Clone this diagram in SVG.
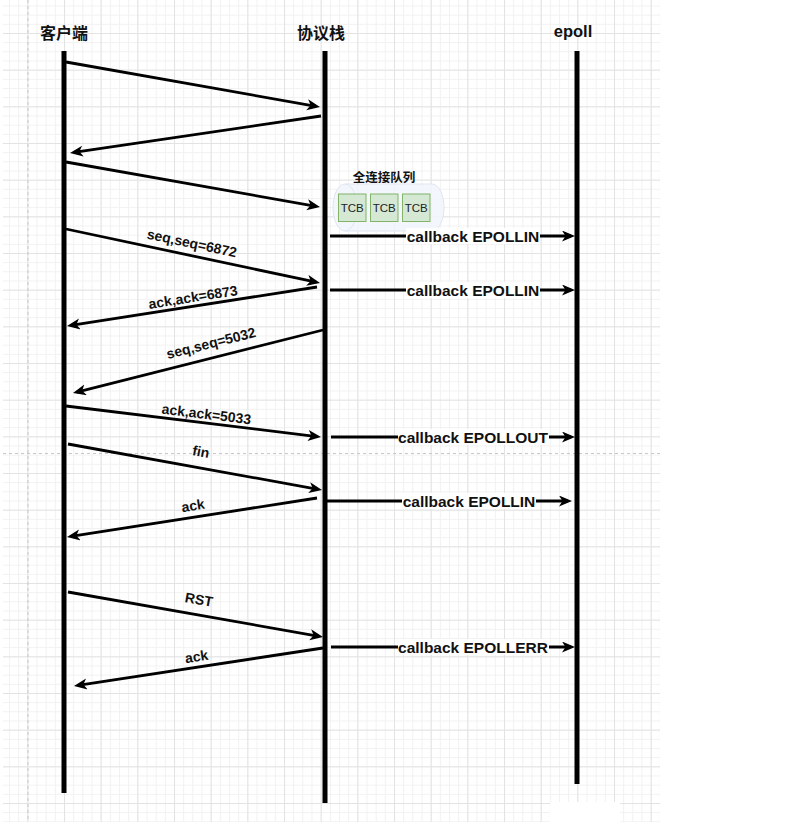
<svg xmlns="http://www.w3.org/2000/svg" width="788" height="827" viewBox="0 0 788 827">
  <defs>
    <pattern id="gridMinor" width="9.1667" height="9.1667" patternUnits="userSpaceOnUse" x="27.33" y="-3.67">
      <path d="M0,0.5 H9.1667 M0.5,0 V9.1667" stroke="#f1f1f1" stroke-width="1" fill="none"/>
    </pattern>
    <pattern id="gridMajor" width="36.667" height="36.667" patternUnits="userSpaceOnUse" x="27.33" y="-3.67">
      <path d="M0,0.5 H36.667 M0.5,0 V36.667" stroke="#e3e3e3" stroke-width="1" fill="none"/>
    </pattern>
    <marker id="arrow" markerUnits="userSpaceOnUse" markerWidth="14" markerHeight="12" refX="9" refY="5.5" orient="auto">
      <path d="M0,0 L13,5.5 L0,11 L3.5,5.5 Z" fill="#000"/>
    </marker>
    <style>
      .life { stroke: #000; stroke-width: 5; fill: none; }
      .msg { stroke: #000; stroke-width: 2.8; fill: none; marker-end: url(#arrow); }
      .head { font-family: "Liberation Sans", "Noto Sans CJK SC", sans-serif; font-weight: bold; font-size: 16px; fill: #111; text-anchor: middle; }
      .lbl { font-family: "Liberation Sans", Arial, sans-serif; font-weight: bold; font-size: 14px; fill: #111; text-anchor: middle; }
      .cb { font-family: "Liberation Sans", Arial, sans-serif; font-weight: bold; font-size: 15.5px; fill: #111; text-anchor: middle; }
      .cbbg { fill: #fff; }
      .tcb rect { fill: #d5e8d4; stroke: #82b366; stroke-width: 1; }
      .tcb text { font-family: "Liberation Sans", Arial, sans-serif; font-size: 11.5px; fill: #222; text-anchor: middle; }
      .page { stroke: #c8c8c8; stroke-width: 1; stroke-dasharray: 3 3; fill: none; }
    </style>
  </defs>

  <!-- canvas and grid -->
  <rect x="0" y="0" width="788" height="827" fill="#fff"/>
  <rect x="3" y="0" width="657" height="822" fill="url(#gridMinor)"/>
  <rect x="3" y="0" width="657" height="822" fill="url(#gridMajor)"/>
  <rect x="550" y="802" width="70" height="25" fill="#fff"/>
  <path class="page" d="M28,0 V822"/>
  <path class="page" d="M3,453.5 H660"/>

  <!-- lifelines -->
  <g id="client">
    <text class="head" x="64" y="39">客户端</text>
    <path class="life" d="M64,51 V793"/>
  </g>
  <g id="stack">
    <text class="head" x="321" y="39">协议栈</text>
    <path class="life" d="M325,51 V803"/>
  </g>
  <g id="epoll">
    <text class="head" x="573" y="37" style="font-size:16.5px">epoll</text>
    <path class="life" d="M577,51 V784"/>
  </g>

  <!-- accept queue -->
  <g id="accept-queue">
    <path d="M345,184 H432 A12,23.5 0 0 1 432,231 H345 A12,23.5 0 0 1 345,184 Z" fill="#f1f4fb" fill-opacity="0.85" stroke="#dfe5f1" stroke-width="1"/>
    <path d="M345,184 A12,23.5 0 0 1 345,231" fill="none" stroke="#dfe5f1" stroke-width="1"/>
    <text class="head" x="384" y="182" style="font-size:12.5px">全连接队列</text>
  </g>
  <g id="tcb1" class="tcb">
    <rect x="338.5" y="194" width="27.5" height="27.5"/>
    <text x="352.2" y="212">TCB</text>
  </g>
  <g id="tcb2" class="tcb">
    <rect x="370.5" y="194" width="27.5" height="27.5"/>
    <text x="384.2" y="212">TCB</text>
  </g>
  <g id="tcb3" class="tcb">
    <rect x="402.5" y="194" width="27.5" height="27.5"/>
    <text x="416.2" y="212">TCB</text>
  </g>

  <!-- connectors -->
  <g id="connectors">
    <!-- handshake -->
    <line class="msg" x1="66" y1="62" x2="316.06" y2="106.30"/>
    <line class="msg" x1="321" y1="116" x2="73.96" y2="152.42"/>
    <line class="msg" x1="66" y1="162" x2="316.06" y2="206.30"/>

    <!-- data exchange -->
    <line class="msg" x1="66" y1="229" x2="316.09" y2="282.17"/>
    <text class="lbl" x="192" y="248" transform="rotate(12 192 243)">seq,seq=6872</text>
    <line class="msg" x1="317" y1="287" x2="70.95" y2="325.38"/>
    <text class="lbl" x="193" y="302" transform="rotate(-8.9 193 297)">ack,ack=6873</text>
    <line class="msg" x1="323" y1="330" x2="76.88" y2="392.02"/>
    <text class="lbl" x="211" y="348" transform="rotate(-14.1 211 343)">seq,seq=5032</text>
    <line class="msg" x1="66" y1="406" x2="317.03" y2="436.52"/>
    <text class="lbl" x="206.5" y="419" transform="rotate(6.9 206.5 414)">ack,ack=5033</text>

    <!-- close -->
    <line class="msg" x1="68" y1="444" x2="318.06" y2="489.29"/>
    <text class="lbl" x="201" y="456.5" transform="rotate(10.3 201 451.5)">fin</text>
    <line class="msg" x1="317" y1="498" x2="70.95" y2="536.38"/>
    <text class="lbl" x="193" y="510.5" transform="rotate(-8.9 193 505.5)">ack</text>

    <!-- reset -->
    <line class="msg" x1="68" y1="592" x2="319.06" y2="636.30"/>
    <text class="lbl" x="199" y="604.5" transform="rotate(10 199 599.5)">RST</text>
    <line class="msg" x1="323" y1="648" x2="77.95" y2="685.40"/>
    <text class="lbl" x="196.5" y="661.5" transform="rotate(-8.7 196.5 656.5)">ack</text>

    <!-- epoll callbacks -->
    <line class="msg" x1="330" y1="236" x2="571" y2="236"/>
    <rect class="cbbg" x="406" y="228" width="134" height="16"/>
    <text class="cb" x="473" y="241.5">callback EPOLLIN</text>

    <line class="msg" x1="330" y1="290" x2="571" y2="290"/>
    <rect class="cbbg" x="406" y="282" width="134" height="16"/>
    <text class="cb" x="473" y="295.5">callback EPOLLIN</text>

    <line class="msg" x1="331" y1="437" x2="571" y2="437"/>
    <rect class="cbbg" x="398" y="429" width="151" height="16"/>
    <text class="cb" x="473" y="442.5">callback EPOLLOUT</text>

    <line class="msg" x1="327" y1="501" x2="568" y2="501"/>
    <rect class="cbbg" x="402" y="493" width="134" height="16"/>
    <text class="cb" x="469" y="506.5">callback EPOLLIN</text>

    <line class="msg" x1="331" y1="647" x2="571" y2="647"/>
    <rect class="cbbg" x="398" y="639" width="151" height="16"/>
    <text class="cb" x="473" y="652.5">callback EPOLLERR</text>
  </g>
</svg>
